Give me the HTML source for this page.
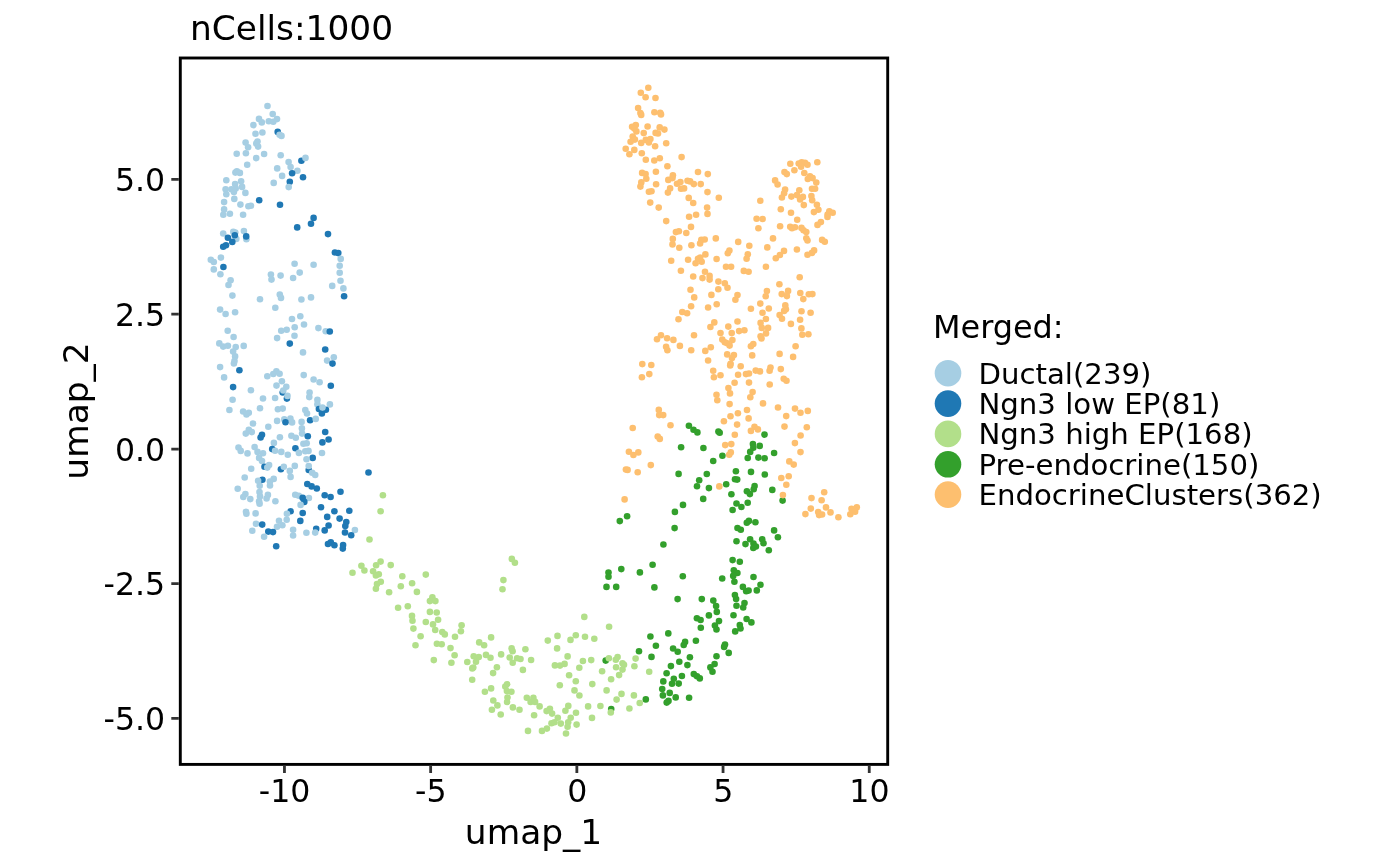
<!DOCTYPE html>
<html lang="en"><head><meta charset="utf-8"><title>nCells:1000</title>
<style>
html,body{margin:0;padding:0;background:#fff}
body{width:1400px;height:866px;overflow:hidden}
svg{display:block}
text{font-family:"DejaVu Sans","Liberation Sans",sans-serif;fill:#000}
.tk{font-size:31.6px}
.ax{font-size:34.4px}
.lt{font-size:31.9px}
.lg{font-size:29.2px}
</style></head><body>
<svg width="1400" height="866" viewBox="0 0 1400 866">
<rect width="1400" height="866" fill="#fff"/>
<text class="ax" x="190" y="40">nCells:1000</text>

<g id="points">
<circle cx="267.5" cy="106.0" r="3.3" fill="#A6CEE3"/>
<circle cx="272.7" cy="114.0" r="3.3" fill="#A6CEE3"/>
<circle cx="277.0" cy="119.1" r="3.3" fill="#A6CEE3"/>
<circle cx="259.0" cy="118.9" r="3.3" fill="#A6CEE3"/>
<circle cx="261.8" cy="122.4" r="3.3" fill="#A6CEE3"/>
<circle cx="268.8" cy="121.3" r="3.3" fill="#A6CEE3"/>
<circle cx="273.3" cy="121.8" r="3.3" fill="#A6CEE3"/>
<circle cx="253.4" cy="125.1" r="3.3" fill="#A6CEE3"/>
<circle cx="277.7" cy="131.9" r="3.3" fill="#1F78B4"/>
<circle cx="279.6" cy="134.7" r="3.3" fill="#A6CEE3"/>
<circle cx="281.5" cy="135.9" r="3.3" fill="#A6CEE3"/>
<circle cx="262.4" cy="132.5" r="3.3" fill="#A6CEE3"/>
<circle cx="255.5" cy="133.7" r="3.3" fill="#A6CEE3"/>
<circle cx="245.6" cy="142.6" r="3.3" fill="#A6CEE3"/>
<circle cx="257.5" cy="141.6" r="3.3" fill="#A6CEE3"/>
<circle cx="256.3" cy="143.4" r="3.3" fill="#A6CEE3"/>
<circle cx="258.1" cy="146.6" r="3.3" fill="#A6CEE3"/>
<circle cx="248.1" cy="147.3" r="3.3" fill="#A6CEE3"/>
<circle cx="236.7" cy="153.8" r="3.3" fill="#A6CEE3"/>
<circle cx="245.9" cy="153.3" r="3.3" fill="#A6CEE3"/>
<circle cx="264.1" cy="154.0" r="3.3" fill="#A6CEE3"/>
<circle cx="280.7" cy="155.2" r="3.3" fill="#A6CEE3"/>
<circle cx="256.2" cy="158.1" r="3.3" fill="#A6CEE3"/>
<circle cx="301.4" cy="160.8" r="3.3" fill="#1F78B4"/>
<circle cx="305.5" cy="157.9" r="3.3" fill="#A6CEE3"/>
<circle cx="288.6" cy="162.1" r="3.3" fill="#A6CEE3"/>
<circle cx="247.2" cy="164.8" r="3.3" fill="#A6CEE3"/>
<circle cx="290.6" cy="167.0" r="3.3" fill="#A6CEE3"/>
<circle cx="277.2" cy="168.4" r="3.3" fill="#A6CEE3"/>
<circle cx="297.4" cy="170.8" r="3.3" fill="#A6CEE3"/>
<circle cx="292.1" cy="173.3" r="3.3" fill="#1F78B4"/>
<circle cx="236.9" cy="171.4" r="3.3" fill="#A6CEE3"/>
<circle cx="235.4" cy="172.6" r="3.3" fill="#A6CEE3"/>
<circle cx="239.9" cy="172.9" r="3.3" fill="#A6CEE3"/>
<circle cx="303.0" cy="177.2" r="3.3" fill="#1F78B4"/>
<circle cx="282.1" cy="175.9" r="3.3" fill="#A6CEE3"/>
<circle cx="226.3" cy="180.3" r="3.3" fill="#A6CEE3"/>
<circle cx="241.1" cy="181.3" r="3.3" fill="#A6CEE3"/>
<circle cx="289.8" cy="181.8" r="3.3" fill="#1F78B4"/>
<circle cx="273.7" cy="182.9" r="3.3" fill="#A6CEE3"/>
<circle cx="235.1" cy="184.1" r="3.3" fill="#A6CEE3"/>
<circle cx="288.7" cy="187.1" r="3.3" fill="#A6CEE3"/>
<circle cx="242.1" cy="186.9" r="3.3" fill="#A6CEE3"/>
<circle cx="225.6" cy="189.3" r="3.3" fill="#A6CEE3"/>
<circle cx="231.4" cy="189.3" r="3.3" fill="#A6CEE3"/>
<circle cx="235.7" cy="188.4" r="3.3" fill="#A6CEE3"/>
<circle cx="233.9" cy="192.0" r="3.3" fill="#A6CEE3"/>
<circle cx="245.4" cy="192.9" r="3.3" fill="#A6CEE3"/>
<circle cx="226.3" cy="194.2" r="3.3" fill="#A6CEE3"/>
<circle cx="224.1" cy="202.1" r="3.3" fill="#A6CEE3"/>
<circle cx="234.3" cy="198.9" r="3.3" fill="#A6CEE3"/>
<circle cx="240.4" cy="204.6" r="3.3" fill="#A6CEE3"/>
<circle cx="248.4" cy="206.2" r="3.3" fill="#A6CEE3"/>
<circle cx="250.9" cy="205.8" r="3.3" fill="#A6CEE3"/>
<circle cx="259.2" cy="200.3" r="3.3" fill="#1F78B4"/>
<circle cx="280.0" cy="204.7" r="3.3" fill="#1F78B4"/>
<circle cx="224.1" cy="209.4" r="3.3" fill="#A6CEE3"/>
<circle cx="223.3" cy="214.7" r="3.3" fill="#A6CEE3"/>
<circle cx="229.9" cy="213.7" r="3.3" fill="#A6CEE3"/>
<circle cx="243.1" cy="214.8" r="3.3" fill="#A6CEE3"/>
<circle cx="313.6" cy="217.9" r="3.3" fill="#1F78B4"/>
<circle cx="311.0" cy="223.8" r="3.3" fill="#1F78B4"/>
<circle cx="297.2" cy="227.4" r="3.3" fill="#1F78B4"/>
<circle cx="328.0" cy="234.1" r="3.3" fill="#1F78B4"/>
<circle cx="223.2" cy="233.5" r="3.3" fill="#A6CEE3"/>
<circle cx="233.3" cy="231.7" r="3.3" fill="#A6CEE3"/>
<circle cx="235.3" cy="232.5" r="3.3" fill="#A6CEE3"/>
<circle cx="243.9" cy="231.0" r="3.3" fill="#A6CEE3"/>
<circle cx="236.3" cy="238.9" r="3.3" fill="#A6CEE3"/>
<circle cx="246.4" cy="239.2" r="3.3" fill="#A6CEE3"/>
<circle cx="234.8" cy="235.2" r="3.3" fill="#1F78B4"/>
<circle cx="227.9" cy="237.8" r="3.3" fill="#1F78B4"/>
<circle cx="232.3" cy="241.9" r="3.3" fill="#1F78B4"/>
<circle cx="246.2" cy="236.4" r="3.3" fill="#1F78B4"/>
<circle cx="226.0" cy="245.3" r="3.3" fill="#1F78B4"/>
<circle cx="223.2" cy="246.7" r="3.3" fill="#1F78B4"/>
<circle cx="334.9" cy="252.5" r="3.3" fill="#1F78B4"/>
<circle cx="338.3" cy="253.1" r="3.3" fill="#1F78B4"/>
<circle cx="340.7" cy="258.9" r="3.3" fill="#A6CEE3"/>
<circle cx="220.9" cy="257.6" r="3.3" fill="#A6CEE3"/>
<circle cx="210.8" cy="259.7" r="3.3" fill="#A6CEE3"/>
<circle cx="213.8" cy="262.0" r="3.3" fill="#A6CEE3"/>
<circle cx="223.4" cy="267.0" r="3.3" fill="#1F78B4"/>
<circle cx="213.8" cy="269.4" r="3.3" fill="#A6CEE3"/>
<circle cx="220.4" cy="274.2" r="3.3" fill="#A6CEE3"/>
<circle cx="294.6" cy="263.8" r="3.3" fill="#A6CEE3"/>
<circle cx="313.6" cy="264.8" r="3.3" fill="#A6CEE3"/>
<circle cx="339.7" cy="265.7" r="3.3" fill="#A6CEE3"/>
<circle cx="339.7" cy="272.8" r="3.3" fill="#A6CEE3"/>
<circle cx="299.7" cy="272.6" r="3.3" fill="#A6CEE3"/>
<circle cx="270.9" cy="274.6" r="3.3" fill="#A6CEE3"/>
<circle cx="280.6" cy="275.6" r="3.3" fill="#A6CEE3"/>
<circle cx="293.1" cy="278.0" r="3.3" fill="#A6CEE3"/>
<circle cx="271.5" cy="279.6" r="3.3" fill="#A6CEE3"/>
<circle cx="230.6" cy="280.2" r="3.3" fill="#A6CEE3"/>
<circle cx="340.5" cy="280.7" r="3.3" fill="#A6CEE3"/>
<circle cx="228.5" cy="285.0" r="3.3" fill="#A6CEE3"/>
<circle cx="332.2" cy="285.9" r="3.3" fill="#A6CEE3"/>
<circle cx="343.4" cy="288.4" r="3.3" fill="#A6CEE3"/>
<circle cx="232.4" cy="295.6" r="3.3" fill="#A6CEE3"/>
<circle cx="260.0" cy="299.2" r="3.3" fill="#A6CEE3"/>
<circle cx="279.8" cy="294.6" r="3.3" fill="#A6CEE3"/>
<circle cx="281.0" cy="297.9" r="3.3" fill="#A6CEE3"/>
<circle cx="301.4" cy="299.5" r="3.3" fill="#A6CEE3"/>
<circle cx="311.0" cy="297.4" r="3.3" fill="#A6CEE3"/>
<circle cx="344.1" cy="296.2" r="3.3" fill="#1F78B4"/>
<circle cx="220.1" cy="309.6" r="3.3" fill="#A6CEE3"/>
<circle cx="225.6" cy="314.0" r="3.3" fill="#A6CEE3"/>
<circle cx="235.1" cy="312.2" r="3.3" fill="#A6CEE3"/>
<circle cx="275.3" cy="307.7" r="3.3" fill="#A6CEE3"/>
<circle cx="300.3" cy="316.2" r="3.3" fill="#A6CEE3"/>
<circle cx="292.0" cy="319.0" r="3.3" fill="#A6CEE3"/>
<circle cx="304.0" cy="324.5" r="3.3" fill="#A6CEE3"/>
<circle cx="294.7" cy="327.2" r="3.3" fill="#A6CEE3"/>
<circle cx="318.4" cy="328.1" r="3.3" fill="#A6CEE3"/>
<circle cx="325.7" cy="331.3" r="3.3" fill="#A6CEE3"/>
<circle cx="329.8" cy="331.5" r="3.3" fill="#1F78B4"/>
<circle cx="286.7" cy="329.8" r="3.3" fill="#A6CEE3"/>
<circle cx="281.2" cy="330.7" r="3.3" fill="#A6CEE3"/>
<circle cx="227.7" cy="330.8" r="3.3" fill="#A6CEE3"/>
<circle cx="233.6" cy="337.0" r="3.3" fill="#A6CEE3"/>
<circle cx="294.5" cy="335.7" r="3.3" fill="#A6CEE3"/>
<circle cx="277.1" cy="338.1" r="3.3" fill="#A6CEE3"/>
<circle cx="289.8" cy="343.6" r="3.3" fill="#1F78B4"/>
<circle cx="219.3" cy="343.4" r="3.3" fill="#A6CEE3"/>
<circle cx="223.2" cy="346.6" r="3.3" fill="#A6CEE3"/>
<circle cx="227.9" cy="345.7" r="3.3" fill="#A6CEE3"/>
<circle cx="235.7" cy="347.1" r="3.3" fill="#A6CEE3"/>
<circle cx="243.7" cy="345.9" r="3.3" fill="#A6CEE3"/>
<circle cx="325.2" cy="349.5" r="3.3" fill="#1F78B4"/>
<circle cx="233.1" cy="351.6" r="3.3" fill="#A6CEE3"/>
<circle cx="303.0" cy="352.4" r="3.3" fill="#A6CEE3"/>
<circle cx="235.1" cy="356.4" r="3.3" fill="#A6CEE3"/>
<circle cx="333.8" cy="357.2" r="3.3" fill="#A6CEE3"/>
<circle cx="327.1" cy="360.6" r="3.3" fill="#A6CEE3"/>
<circle cx="332.5" cy="363.6" r="3.3" fill="#1F78B4"/>
<circle cx="234.5" cy="361.0" r="3.3" fill="#A6CEE3"/>
<circle cx="233.9" cy="363.5" r="3.3" fill="#A6CEE3"/>
<circle cx="220.1" cy="367.1" r="3.3" fill="#A6CEE3"/>
<circle cx="239.4" cy="370.3" r="3.3" fill="#1F78B4"/>
<circle cx="276.4" cy="371.4" r="3.3" fill="#A6CEE3"/>
<circle cx="273.3" cy="374.0" r="3.3" fill="#A6CEE3"/>
<circle cx="279.6" cy="373.8" r="3.3" fill="#A6CEE3"/>
<circle cx="267.3" cy="376.2" r="3.3" fill="#A6CEE3"/>
<circle cx="303.7" cy="375.1" r="3.3" fill="#A6CEE3"/>
<circle cx="224.1" cy="377.4" r="3.3" fill="#A6CEE3"/>
<circle cx="313.6" cy="379.5" r="3.3" fill="#A6CEE3"/>
<circle cx="319.6" cy="382.2" r="3.3" fill="#A6CEE3"/>
<circle cx="281.9" cy="381.3" r="3.3" fill="#A6CEE3"/>
<circle cx="330.8" cy="385.7" r="3.3" fill="#1F78B4"/>
<circle cx="276.5" cy="385.6" r="3.3" fill="#A6CEE3"/>
<circle cx="286.3" cy="386.7" r="3.3" fill="#A6CEE3"/>
<circle cx="233.1" cy="387.1" r="3.3" fill="#1F78B4"/>
<circle cx="250.9" cy="390.3" r="3.3" fill="#A6CEE3"/>
<circle cx="282.7" cy="392.5" r="3.3" fill="#1F78B4"/>
<circle cx="283.3" cy="390.5" r="3.3" fill="#A6CEE3"/>
<circle cx="286.9" cy="398.6" r="3.3" fill="#1F78B4"/>
<circle cx="287.5" cy="395.9" r="3.3" fill="#A6CEE3"/>
<circle cx="309.6" cy="392.5" r="3.3" fill="#A6CEE3"/>
<circle cx="309.3" cy="397.1" r="3.3" fill="#A6CEE3"/>
<circle cx="232.6" cy="399.7" r="3.3" fill="#A6CEE3"/>
<circle cx="263.0" cy="398.5" r="3.3" fill="#A6CEE3"/>
<circle cx="275.1" cy="398.0" r="3.3" fill="#A6CEE3"/>
<circle cx="317.4" cy="399.9" r="3.3" fill="#A6CEE3"/>
<circle cx="317.4" cy="404.4" r="3.3" fill="#A6CEE3"/>
<circle cx="329.9" cy="404.4" r="3.3" fill="#A6CEE3"/>
<circle cx="318.9" cy="409.0" r="3.3" fill="#1F78B4"/>
<circle cx="325.9" cy="409.7" r="3.3" fill="#1F78B4"/>
<circle cx="321.9" cy="413.5" r="3.3" fill="#1F78B4"/>
<circle cx="322.5" cy="407.5" r="3.3" fill="#A6CEE3"/>
<circle cx="229.4" cy="410.0" r="3.3" fill="#A6CEE3"/>
<circle cx="260.0" cy="408.2" r="3.3" fill="#A6CEE3"/>
<circle cx="277.9" cy="409.3" r="3.3" fill="#A6CEE3"/>
<circle cx="282.7" cy="408.6" r="3.3" fill="#A6CEE3"/>
<circle cx="305.3" cy="410.1" r="3.3" fill="#A6CEE3"/>
<circle cx="307.0" cy="413.5" r="3.3" fill="#A6CEE3"/>
<circle cx="243.1" cy="411.5" r="3.3" fill="#A6CEE3"/>
<circle cx="248.8" cy="412.7" r="3.3" fill="#A6CEE3"/>
<circle cx="246.5" cy="414.5" r="3.3" fill="#A6CEE3"/>
<circle cx="310.1" cy="420.2" r="3.3" fill="#1F78B4"/>
<circle cx="315.7" cy="418.9" r="3.3" fill="#A6CEE3"/>
<circle cx="284.3" cy="419.4" r="3.3" fill="#A6CEE3"/>
<circle cx="290.4" cy="418.6" r="3.3" fill="#A6CEE3"/>
<circle cx="292.1" cy="422.4" r="3.3" fill="#A6CEE3"/>
<circle cx="285.5" cy="422.2" r="3.3" fill="#1F78B4"/>
<circle cx="277.1" cy="420.9" r="3.3" fill="#A6CEE3"/>
<circle cx="301.6" cy="421.9" r="3.3" fill="#A6CEE3"/>
<circle cx="253.0" cy="423.5" r="3.3" fill="#A6CEE3"/>
<circle cx="268.3" cy="426.8" r="3.3" fill="#A6CEE3"/>
<circle cx="301.9" cy="428.4" r="3.3" fill="#A6CEE3"/>
<circle cx="248.8" cy="429.9" r="3.3" fill="#A6CEE3"/>
<circle cx="251.8" cy="432.1" r="3.3" fill="#A6CEE3"/>
<circle cx="245.8" cy="433.6" r="3.3" fill="#A6CEE3"/>
<circle cx="262.0" cy="434.8" r="3.3" fill="#1F78B4"/>
<circle cx="260.6" cy="437.5" r="3.3" fill="#1F78B4"/>
<circle cx="325.2" cy="432.0" r="3.3" fill="#1F78B4"/>
<circle cx="302.1" cy="433.6" r="3.3" fill="#A6CEE3"/>
<circle cx="307.8" cy="436.2" r="3.3" fill="#1F78B4"/>
<circle cx="291.4" cy="435.8" r="3.3" fill="#A6CEE3"/>
<circle cx="295.8" cy="437.8" r="3.3" fill="#A6CEE3"/>
<circle cx="279.9" cy="437.3" r="3.3" fill="#A6CEE3"/>
<circle cx="328.6" cy="439.5" r="3.3" fill="#1F78B4"/>
<circle cx="322.4" cy="442.4" r="3.3" fill="#1F78B4"/>
<circle cx="273.9" cy="442.9" r="3.3" fill="#A6CEE3"/>
<circle cx="303.4" cy="443.8" r="3.3" fill="#A6CEE3"/>
<circle cx="306.7" cy="443.3" r="3.3" fill="#A6CEE3"/>
<circle cx="254.6" cy="447.1" r="3.3" fill="#A6CEE3"/>
<circle cx="238.5" cy="447.5" r="3.3" fill="#A6CEE3"/>
<circle cx="240.7" cy="450.9" r="3.3" fill="#A6CEE3"/>
<circle cx="295.4" cy="448.3" r="3.3" fill="#1F78B4"/>
<circle cx="272.2" cy="449.1" r="3.3" fill="#1F78B4"/>
<circle cx="275.1" cy="450.7" r="3.3" fill="#A6CEE3"/>
<circle cx="281.3" cy="451.9" r="3.3" fill="#A6CEE3"/>
<circle cx="257.5" cy="451.9" r="3.3" fill="#A6CEE3"/>
<circle cx="263.0" cy="453.2" r="3.3" fill="#A6CEE3"/>
<circle cx="247.5" cy="453.4" r="3.3" fill="#A6CEE3"/>
<circle cx="287.8" cy="454.8" r="3.3" fill="#A6CEE3"/>
<circle cx="298.9" cy="452.9" r="3.3" fill="#A6CEE3"/>
<circle cx="305.3" cy="451.2" r="3.3" fill="#A6CEE3"/>
<circle cx="308.5" cy="450.9" r="3.3" fill="#A6CEE3"/>
<circle cx="322.0" cy="453.0" r="3.3" fill="#A6CEE3"/>
<circle cx="312.7" cy="457.9" r="3.3" fill="#1F78B4"/>
<circle cx="306.5" cy="459.3" r="3.3" fill="#A6CEE3"/>
<circle cx="259.1" cy="457.9" r="3.3" fill="#A6CEE3"/>
<circle cx="262.0" cy="461.1" r="3.3" fill="#A6CEE3"/>
<circle cx="308.7" cy="470.0" r="3.3" fill="#1F78B4"/>
<circle cx="308.7" cy="466.0" r="3.3" fill="#A6CEE3"/>
<circle cx="294.8" cy="465.9" r="3.3" fill="#A6CEE3"/>
<circle cx="264.5" cy="466.7" r="3.3" fill="#1F78B4"/>
<circle cx="269.1" cy="465.1" r="3.3" fill="#A6CEE3"/>
<circle cx="267.3" cy="467.6" r="3.3" fill="#A6CEE3"/>
<circle cx="280.9" cy="469.3" r="3.3" fill="#1F78B4"/>
<circle cx="283.8" cy="466.7" r="3.3" fill="#A6CEE3"/>
<circle cx="251.2" cy="468.8" r="3.3" fill="#A6CEE3"/>
<circle cx="289.8" cy="470.9" r="3.3" fill="#A6CEE3"/>
<circle cx="312.2" cy="472.7" r="3.3" fill="#A6CEE3"/>
<circle cx="315.2" cy="475.0" r="3.3" fill="#A6CEE3"/>
<circle cx="290.6" cy="476.9" r="3.3" fill="#A6CEE3"/>
<circle cx="244.7" cy="477.5" r="3.3" fill="#A6CEE3"/>
<circle cx="273.7" cy="478.9" r="3.3" fill="#A6CEE3"/>
<circle cx="262.4" cy="479.7" r="3.3" fill="#1F78B4"/>
<circle cx="258.1" cy="480.7" r="3.3" fill="#A6CEE3"/>
<circle cx="269.9" cy="481.5" r="3.3" fill="#A6CEE3"/>
<circle cx="259.7" cy="485.8" r="3.3" fill="#A6CEE3"/>
<circle cx="270.0" cy="485.5" r="3.3" fill="#A6CEE3"/>
<circle cx="307.3" cy="484.0" r="3.3" fill="#1F78B4"/>
<circle cx="311.6" cy="486.4" r="3.3" fill="#1F78B4"/>
<circle cx="316.8" cy="488.5" r="3.3" fill="#1F78B4"/>
<circle cx="237.7" cy="488.7" r="3.3" fill="#A6CEE3"/>
<circle cx="340.5" cy="491.7" r="3.3" fill="#1F78B4"/>
<circle cx="245.4" cy="494.0" r="3.3" fill="#A6CEE3"/>
<circle cx="243.3" cy="497.0" r="3.3" fill="#A6CEE3"/>
<circle cx="250.3" cy="499.1" r="3.3" fill="#A6CEE3"/>
<circle cx="259.5" cy="492.1" r="3.3" fill="#A6CEE3"/>
<circle cx="260.0" cy="496.4" r="3.3" fill="#A6CEE3"/>
<circle cx="267.9" cy="494.9" r="3.3" fill="#A6CEE3"/>
<circle cx="266.6" cy="498.5" r="3.3" fill="#A6CEE3"/>
<circle cx="259.1" cy="501.3" r="3.3" fill="#A6CEE3"/>
<circle cx="259.6" cy="503.7" r="3.3" fill="#A6CEE3"/>
<circle cx="275.4" cy="501.3" r="3.3" fill="#A6CEE3"/>
<circle cx="295.2" cy="494.8" r="3.3" fill="#A6CEE3"/>
<circle cx="298.8" cy="495.8" r="3.3" fill="#A6CEE3"/>
<circle cx="308.9" cy="498.0" r="3.3" fill="#A6CEE3"/>
<circle cx="324.7" cy="495.3" r="3.3" fill="#1F78B4"/>
<circle cx="330.6" cy="497.0" r="3.3" fill="#1F78B4"/>
<circle cx="302.7" cy="497.9" r="3.3" fill="#1F78B4"/>
<circle cx="304.3" cy="501.9" r="3.3" fill="#1F78B4"/>
<circle cx="300.6" cy="504.9" r="3.3" fill="#A6CEE3"/>
<circle cx="321.0" cy="507.2" r="3.3" fill="#1F78B4"/>
<circle cx="334.4" cy="511.3" r="3.3" fill="#1F78B4"/>
<circle cx="349.3" cy="510.7" r="3.3" fill="#1F78B4"/>
<circle cx="290.6" cy="511.2" r="3.3" fill="#1F78B4"/>
<circle cx="286.9" cy="513.8" r="3.3" fill="#A6CEE3"/>
<circle cx="302.7" cy="513.0" r="3.3" fill="#1F78B4"/>
<circle cx="246.0" cy="511.8" r="3.3" fill="#A6CEE3"/>
<circle cx="246.4" cy="513.8" r="3.3" fill="#A6CEE3"/>
<circle cx="255.6" cy="513.4" r="3.3" fill="#A6CEE3"/>
<circle cx="327.2" cy="516.9" r="3.3" fill="#1F78B4"/>
<circle cx="339.6" cy="518.6" r="3.3" fill="#1F78B4"/>
<circle cx="286.7" cy="519.8" r="3.3" fill="#A6CEE3"/>
<circle cx="279.0" cy="520.7" r="3.3" fill="#A6CEE3"/>
<circle cx="300.3" cy="520.9" r="3.3" fill="#1F78B4"/>
<circle cx="346.3" cy="522.0" r="3.3" fill="#1F78B4"/>
<circle cx="345.3" cy="526.1" r="3.3" fill="#1F78B4"/>
<circle cx="328.6" cy="525.5" r="3.3" fill="#1F78B4"/>
<circle cx="256.0" cy="523.8" r="3.3" fill="#A6CEE3"/>
<circle cx="262.2" cy="524.6" r="3.3" fill="#1F78B4"/>
<circle cx="282.4" cy="525.3" r="3.3" fill="#A6CEE3"/>
<circle cx="277.0" cy="526.8" r="3.3" fill="#A6CEE3"/>
<circle cx="316.2" cy="528.8" r="3.3" fill="#1F78B4"/>
<circle cx="324.7" cy="530.4" r="3.3" fill="#1F78B4"/>
<circle cx="354.9" cy="530.0" r="3.3" fill="#A6CEE3"/>
<circle cx="293.1" cy="529.8" r="3.3" fill="#A6CEE3"/>
<circle cx="252.3" cy="530.8" r="3.3" fill="#A6CEE3"/>
<circle cx="268.3" cy="531.6" r="3.3" fill="#1F78B4"/>
<circle cx="273.0" cy="532.1" r="3.3" fill="#1F78B4"/>
<circle cx="306.4" cy="532.7" r="3.3" fill="#A6CEE3"/>
<circle cx="315.2" cy="532.6" r="3.3" fill="#A6CEE3"/>
<circle cx="345.0" cy="532.5" r="3.3" fill="#1F78B4"/>
<circle cx="351.2" cy="535.3" r="3.3" fill="#1F78B4"/>
<circle cx="293.1" cy="535.5" r="3.3" fill="#A6CEE3"/>
<circle cx="264.1" cy="536.7" r="3.3" fill="#A6CEE3"/>
<circle cx="330.8" cy="542.2" r="3.3" fill="#1F78B4"/>
<circle cx="328.0" cy="544.0" r="3.3" fill="#1F78B4"/>
<circle cx="334.4" cy="545.3" r="3.3" fill="#1F78B4"/>
<circle cx="343.1" cy="545.0" r="3.3" fill="#1F78B4"/>
<circle cx="342.8" cy="548.6" r="3.3" fill="#1F78B4"/>
<circle cx="276.2" cy="546.2" r="3.3" fill="#1F78B4"/>
<circle cx="361.4" cy="565.7" r="3.3" fill="#B2DF8A"/>
<circle cx="352.5" cy="572.7" r="3.3" fill="#B2DF8A"/>
<circle cx="364.4" cy="570.5" r="3.3" fill="#B2DF8A"/>
<circle cx="368.5" cy="472.5" r="3.3" fill="#1F78B4"/>
<circle cx="382.9" cy="495.3" r="3.3" fill="#B2DF8A"/>
<circle cx="380.6" cy="511.3" r="3.3" fill="#B2DF8A"/>
<circle cx="369.5" cy="539.5" r="3.3" fill="#B2DF8A"/>
<circle cx="380.6" cy="561.6" r="3.3" fill="#B2DF8A"/>
<circle cx="376.1" cy="565.3" r="3.3" fill="#B2DF8A"/>
<circle cx="390.7" cy="565.1" r="3.3" fill="#B2DF8A"/>
<circle cx="373.1" cy="571.2" r="3.3" fill="#B2DF8A"/>
<circle cx="378.8" cy="574.2" r="3.3" fill="#B2DF8A"/>
<circle cx="375.9" cy="575.5" r="3.3" fill="#B2DF8A"/>
<circle cx="402.3" cy="576.3" r="3.3" fill="#B2DF8A"/>
<circle cx="425.8" cy="574.6" r="3.3" fill="#B2DF8A"/>
<circle cx="380.8" cy="581.8" r="3.3" fill="#B2DF8A"/>
<circle cx="377.0" cy="584.1" r="3.3" fill="#B2DF8A"/>
<circle cx="375.9" cy="588.8" r="3.3" fill="#B2DF8A"/>
<circle cx="412.1" cy="583.2" r="3.3" fill="#B2DF8A"/>
<circle cx="400.8" cy="586.3" r="3.3" fill="#B2DF8A"/>
<circle cx="389.1" cy="592.3" r="3.3" fill="#B2DF8A"/>
<circle cx="416.9" cy="591.9" r="3.3" fill="#B2DF8A"/>
<circle cx="432.4" cy="597.4" r="3.3" fill="#B2DF8A"/>
<circle cx="429.9" cy="601.1" r="3.3" fill="#B2DF8A"/>
<circle cx="435.4" cy="601.1" r="3.3" fill="#B2DF8A"/>
<circle cx="407.8" cy="606.3" r="3.3" fill="#B2DF8A"/>
<circle cx="398.1" cy="607.8" r="3.3" fill="#B2DF8A"/>
<circle cx="429.9" cy="611.9" r="3.3" fill="#B2DF8A"/>
<circle cx="436.7" cy="612.5" r="3.3" fill="#B2DF8A"/>
<circle cx="412.0" cy="615.9" r="3.3" fill="#B2DF8A"/>
<circle cx="412.5" cy="620.8" r="3.3" fill="#B2DF8A"/>
<circle cx="438.1" cy="619.7" r="3.3" fill="#B2DF8A"/>
<circle cx="425.8" cy="622.0" r="3.3" fill="#B2DF8A"/>
<circle cx="433.0" cy="624.4" r="3.3" fill="#B2DF8A"/>
<circle cx="413.4" cy="628.6" r="3.3" fill="#B2DF8A"/>
<circle cx="435.2" cy="630.0" r="3.3" fill="#B2DF8A"/>
<circle cx="461.6" cy="625.2" r="3.3" fill="#B2DF8A"/>
<circle cx="460.9" cy="631.3" r="3.3" fill="#B2DF8A"/>
<circle cx="442.3" cy="632.0" r="3.3" fill="#B2DF8A"/>
<circle cx="444.8" cy="634.4" r="3.3" fill="#B2DF8A"/>
<circle cx="420.6" cy="636.2" r="3.3" fill="#B2DF8A"/>
<circle cx="455.0" cy="636.8" r="3.3" fill="#B2DF8A"/>
<circle cx="491.1" cy="637.4" r="3.3" fill="#B2DF8A"/>
<circle cx="415.5" cy="645.2" r="3.3" fill="#B2DF8A"/>
<circle cx="436.9" cy="643.7" r="3.3" fill="#B2DF8A"/>
<circle cx="441.7" cy="644.2" r="3.3" fill="#B2DF8A"/>
<circle cx="479.2" cy="642.4" r="3.3" fill="#B2DF8A"/>
<circle cx="484.1" cy="645.2" r="3.3" fill="#B2DF8A"/>
<circle cx="450.5" cy="648.1" r="3.3" fill="#B2DF8A"/>
<circle cx="454.6" cy="655.3" r="3.3" fill="#B2DF8A"/>
<circle cx="433.8" cy="660.1" r="3.3" fill="#B2DF8A"/>
<circle cx="451.4" cy="662.8" r="3.3" fill="#B2DF8A"/>
<circle cx="473.7" cy="656.3" r="3.3" fill="#B2DF8A"/>
<circle cx="478.8" cy="657.1" r="3.3" fill="#B2DF8A"/>
<circle cx="486.0" cy="654.9" r="3.3" fill="#B2DF8A"/>
<circle cx="490.5" cy="657.8" r="3.3" fill="#B2DF8A"/>
<circle cx="467.3" cy="662.0" r="3.3" fill="#B2DF8A"/>
<circle cx="476.0" cy="661.7" r="3.3" fill="#B2DF8A"/>
<circle cx="473.3" cy="667.5" r="3.3" fill="#B2DF8A"/>
<circle cx="472.3" cy="668.4" r="3.3" fill="#B2DF8A"/>
<circle cx="493.1" cy="673.1" r="3.3" fill="#B2DF8A"/>
<circle cx="472.2" cy="679.7" r="3.3" fill="#B2DF8A"/>
<circle cx="491.1" cy="688.4" r="3.3" fill="#B2DF8A"/>
<circle cx="484.9" cy="691.8" r="3.3" fill="#B2DF8A"/>
<circle cx="493.3" cy="700.5" r="3.3" fill="#B2DF8A"/>
<circle cx="491.9" cy="709.7" r="3.3" fill="#B2DF8A"/>
<circle cx="657.7" cy="436.5" r="3.3" fill="#FDBF6F"/>
<circle cx="659.8" cy="438.9" r="3.3" fill="#FDBF6F"/>
<circle cx="628.9" cy="451.8" r="3.3" fill="#FDBF6F"/>
<circle cx="638.3" cy="452.4" r="3.3" fill="#FDBF6F"/>
<circle cx="633.4" cy="455.0" r="3.3" fill="#FDBF6F"/>
<circle cx="650.8" cy="465.1" r="3.3" fill="#FDBF6F"/>
<circle cx="625.9" cy="469.5" r="3.3" fill="#FDBF6F"/>
<circle cx="627.6" cy="469.9" r="3.3" fill="#FDBF6F"/>
<circle cx="637.7" cy="472.3" r="3.3" fill="#FDBF6F"/>
<circle cx="624.6" cy="499.4" r="3.3" fill="#FDBF6F"/>
<circle cx="627.1" cy="516.2" r="3.3" fill="#33A02C"/>
<circle cx="619.8" cy="521.1" r="3.3" fill="#33A02C"/>
<circle cx="511.8" cy="558.9" r="3.3" fill="#B2DF8A"/>
<circle cx="514.9" cy="562.7" r="3.3" fill="#B2DF8A"/>
<circle cx="503.4" cy="580.1" r="3.3" fill="#B2DF8A"/>
<circle cx="502.5" cy="589.2" r="3.3" fill="#B2DF8A"/>
<circle cx="608.5" cy="572.5" r="3.3" fill="#33A02C"/>
<circle cx="608.5" cy="576.8" r="3.3" fill="#33A02C"/>
<circle cx="621.3" cy="569.1" r="3.3" fill="#33A02C"/>
<circle cx="639.9" cy="572.4" r="3.3" fill="#33A02C"/>
<circle cx="652.6" cy="564.8" r="3.3" fill="#33A02C"/>
<circle cx="606.5" cy="586.9" r="3.3" fill="#33A02C"/>
<circle cx="616.2" cy="586.9" r="3.3" fill="#33A02C"/>
<circle cx="654.4" cy="587.4" r="3.3" fill="#33A02C"/>
<circle cx="584.3" cy="616.9" r="3.3" fill="#B2DF8A"/>
<circle cx="609.1" cy="626.7" r="3.3" fill="#B2DF8A"/>
<circle cx="557.5" cy="635.9" r="3.3" fill="#B2DF8A"/>
<circle cx="575.8" cy="635.3" r="3.3" fill="#B2DF8A"/>
<circle cx="585.0" cy="636.8" r="3.3" fill="#B2DF8A"/>
<circle cx="594.3" cy="638.7" r="3.3" fill="#B2DF8A"/>
<circle cx="547.8" cy="640.6" r="3.3" fill="#B2DF8A"/>
<circle cx="570.5" cy="639.9" r="3.3" fill="#B2DF8A"/>
<circle cx="650.4" cy="636.5" r="3.3" fill="#33A02C"/>
<circle cx="655.9" cy="645.7" r="3.3" fill="#33A02C"/>
<circle cx="557.1" cy="648.4" r="3.3" fill="#B2DF8A"/>
<circle cx="639.0" cy="651.3" r="3.3" fill="#33A02C"/>
<circle cx="651.5" cy="656.9" r="3.3" fill="#33A02C"/>
<circle cx="511.6" cy="648.4" r="3.3" fill="#B2DF8A"/>
<circle cx="512.6" cy="651.2" r="3.3" fill="#B2DF8A"/>
<circle cx="525.4" cy="649.3" r="3.3" fill="#B2DF8A"/>
<circle cx="501.1" cy="654.4" r="3.3" fill="#B2DF8A"/>
<circle cx="509.7" cy="657.5" r="3.3" fill="#B2DF8A"/>
<circle cx="517.1" cy="658.3" r="3.3" fill="#B2DF8A"/>
<circle cx="520.5" cy="659.0" r="3.3" fill="#B2DF8A"/>
<circle cx="512.7" cy="662.8" r="3.3" fill="#B2DF8A"/>
<circle cx="531.1" cy="660.0" r="3.3" fill="#B2DF8A"/>
<circle cx="567.6" cy="656.4" r="3.3" fill="#B2DF8A"/>
<circle cx="496.9" cy="667.2" r="3.3" fill="#B2DF8A"/>
<circle cx="522.9" cy="669.9" r="3.3" fill="#B2DF8A"/>
<circle cx="554.9" cy="665.4" r="3.3" fill="#B2DF8A"/>
<circle cx="560.0" cy="665.6" r="3.3" fill="#B2DF8A"/>
<circle cx="564.6" cy="663.9" r="3.3" fill="#B2DF8A"/>
<circle cx="582.9" cy="661.0" r="3.3" fill="#B2DF8A"/>
<circle cx="591.2" cy="660.1" r="3.3" fill="#B2DF8A"/>
<circle cx="579.3" cy="667.7" r="3.3" fill="#B2DF8A"/>
<circle cx="605.7" cy="660.6" r="3.3" fill="#33A02C"/>
<circle cx="608.9" cy="658.2" r="3.3" fill="#B2DF8A"/>
<circle cx="617.6" cy="657.0" r="3.3" fill="#B2DF8A"/>
<circle cx="615.8" cy="659.7" r="3.3" fill="#B2DF8A"/>
<circle cx="635.6" cy="658.6" r="3.3" fill="#B2DF8A"/>
<circle cx="622.5" cy="663.2" r="3.3" fill="#B2DF8A"/>
<circle cx="624.0" cy="664.8" r="3.3" fill="#B2DF8A"/>
<circle cx="622.5" cy="669.6" r="3.3" fill="#B2DF8A"/>
<circle cx="616.1" cy="667.2" r="3.3" fill="#B2DF8A"/>
<circle cx="634.4" cy="666.2" r="3.3" fill="#B2DF8A"/>
<circle cx="602.1" cy="671.3" r="3.3" fill="#B2DF8A"/>
<circle cx="649.2" cy="671.7" r="3.3" fill="#B2DF8A"/>
<circle cx="619.1" cy="675.1" r="3.3" fill="#B2DF8A"/>
<circle cx="569.1" cy="675.3" r="3.3" fill="#B2DF8A"/>
<circle cx="611.1" cy="679.3" r="3.3" fill="#B2DF8A"/>
<circle cx="575.8" cy="681.3" r="3.3" fill="#B2DF8A"/>
<circle cx="592.3" cy="684.1" r="3.3" fill="#B2DF8A"/>
<circle cx="559.8" cy="685.2" r="3.3" fill="#B2DF8A"/>
<circle cx="507.1" cy="684.2" r="3.3" fill="#B2DF8A"/>
<circle cx="505.3" cy="686.6" r="3.3" fill="#B2DF8A"/>
<circle cx="506.9" cy="691.1" r="3.3" fill="#B2DF8A"/>
<circle cx="511.4" cy="691.8" r="3.3" fill="#B2DF8A"/>
<circle cx="574.5" cy="690.4" r="3.3" fill="#B2DF8A"/>
<circle cx="606.6" cy="690.4" r="3.3" fill="#B2DF8A"/>
<circle cx="579.4" cy="695.5" r="3.3" fill="#B2DF8A"/>
<circle cx="621.5" cy="693.9" r="3.3" fill="#B2DF8A"/>
<circle cx="633.9" cy="695.4" r="3.3" fill="#B2DF8A"/>
<circle cx="616.6" cy="699.6" r="3.3" fill="#B2DF8A"/>
<circle cx="645.8" cy="699.4" r="3.3" fill="#33A02C"/>
<circle cx="639.7" cy="703.0" r="3.3" fill="#B2DF8A"/>
<circle cx="507.5" cy="697.5" r="3.3" fill="#B2DF8A"/>
<circle cx="507.1" cy="702.0" r="3.3" fill="#B2DF8A"/>
<circle cx="526.8" cy="697.7" r="3.3" fill="#B2DF8A"/>
<circle cx="533.4" cy="697.9" r="3.3" fill="#B2DF8A"/>
<circle cx="530.6" cy="701.9" r="3.3" fill="#B2DF8A"/>
<circle cx="535.1" cy="701.9" r="3.3" fill="#B2DF8A"/>
<circle cx="497.4" cy="705.4" r="3.3" fill="#B2DF8A"/>
<circle cx="512.9" cy="707.4" r="3.3" fill="#B2DF8A"/>
<circle cx="519.5" cy="709.8" r="3.3" fill="#B2DF8A"/>
<circle cx="500.7" cy="714.5" r="3.3" fill="#B2DF8A"/>
<circle cx="539.6" cy="706.4" r="3.3" fill="#B2DF8A"/>
<circle cx="568.3" cy="705.9" r="3.3" fill="#B2DF8A"/>
<circle cx="588.1" cy="706.4" r="3.3" fill="#B2DF8A"/>
<circle cx="600.4" cy="706.0" r="3.3" fill="#B2DF8A"/>
<circle cx="611.2" cy="709.1" r="3.3" fill="#33A02C"/>
<circle cx="610.8" cy="712.4" r="3.3" fill="#B2DF8A"/>
<circle cx="629.4" cy="708.5" r="3.3" fill="#B2DF8A"/>
<circle cx="549.9" cy="708.7" r="3.3" fill="#B2DF8A"/>
<circle cx="546.6" cy="711.1" r="3.3" fill="#B2DF8A"/>
<circle cx="552.1" cy="713.6" r="3.3" fill="#B2DF8A"/>
<circle cx="565.4" cy="710.7" r="3.3" fill="#B2DF8A"/>
<circle cx="576.0" cy="712.8" r="3.3" fill="#B2DF8A"/>
<circle cx="534.1" cy="715.3" r="3.3" fill="#B2DF8A"/>
<circle cx="557.8" cy="717.8" r="3.3" fill="#B2DF8A"/>
<circle cx="570.7" cy="717.7" r="3.3" fill="#B2DF8A"/>
<circle cx="592.0" cy="717.9" r="3.3" fill="#B2DF8A"/>
<circle cx="568.2" cy="722.2" r="3.3" fill="#B2DF8A"/>
<circle cx="567.6" cy="726.7" r="3.3" fill="#B2DF8A"/>
<circle cx="551.5" cy="723.3" r="3.3" fill="#B2DF8A"/>
<circle cx="554.5" cy="722.2" r="3.3" fill="#B2DF8A"/>
<circle cx="560.8" cy="723.6" r="3.3" fill="#B2DF8A"/>
<circle cx="576.6" cy="724.6" r="3.3" fill="#B2DF8A"/>
<circle cx="546.9" cy="728.6" r="3.3" fill="#B2DF8A"/>
<circle cx="542.0" cy="730.9" r="3.3" fill="#B2DF8A"/>
<circle cx="528.0" cy="730.9" r="3.3" fill="#B2DF8A"/>
<circle cx="566.0" cy="733.5" r="3.3" fill="#B2DF8A"/>
<circle cx="681.1" cy="447.3" r="3.3" fill="#33A02C"/>
<circle cx="703.4" cy="448.0" r="3.3" fill="#33A02C"/>
<circle cx="725.2" cy="445.1" r="3.3" fill="#FDBF6F"/>
<circle cx="731.3" cy="444.1" r="3.3" fill="#FDBF6F"/>
<circle cx="752.9" cy="444.1" r="3.3" fill="#33A02C"/>
<circle cx="753.3" cy="447.8" r="3.3" fill="#33A02C"/>
<circle cx="759.7" cy="445.9" r="3.3" fill="#33A02C"/>
<circle cx="794.9" cy="443.1" r="3.3" fill="#FDBF6F"/>
<circle cx="800.5" cy="452.1" r="3.3" fill="#FDBF6F"/>
<circle cx="730.8" cy="452.4" r="3.3" fill="#FDBF6F"/>
<circle cx="729.2" cy="454.8" r="3.3" fill="#FDBF6F"/>
<circle cx="722.4" cy="455.8" r="3.3" fill="#33A02C"/>
<circle cx="750.2" cy="451.9" r="3.3" fill="#33A02C"/>
<circle cx="774.1" cy="453.0" r="3.3" fill="#33A02C"/>
<circle cx="713.2" cy="461.0" r="3.3" fill="#33A02C"/>
<circle cx="747.7" cy="458.0" r="3.3" fill="#33A02C"/>
<circle cx="758.4" cy="457.6" r="3.3" fill="#33A02C"/>
<circle cx="764.6" cy="458.2" r="3.3" fill="#33A02C"/>
<circle cx="789.3" cy="461.4" r="3.3" fill="#FDBF6F"/>
<circle cx="793.7" cy="464.6" r="3.3" fill="#FDBF6F"/>
<circle cx="678.6" cy="473.9" r="3.3" fill="#33A02C"/>
<circle cx="706.8" cy="474.0" r="3.3" fill="#33A02C"/>
<circle cx="735.9" cy="471.2" r="3.3" fill="#33A02C"/>
<circle cx="751.0" cy="471.9" r="3.3" fill="#33A02C"/>
<circle cx="764.8" cy="474.5" r="3.3" fill="#33A02C"/>
<circle cx="788.7" cy="476.3" r="3.3" fill="#FDBF6F"/>
<circle cx="781.3" cy="478.0" r="3.3" fill="#FDBF6F"/>
<circle cx="699.2" cy="480.2" r="3.3" fill="#33A02C"/>
<circle cx="735.0" cy="479.3" r="3.3" fill="#33A02C"/>
<circle cx="737.2" cy="479.6" r="3.3" fill="#33A02C"/>
<circle cx="786.3" cy="484.7" r="3.3" fill="#FDBF6F"/>
<circle cx="697.0" cy="486.2" r="3.3" fill="#33A02C"/>
<circle cx="708.9" cy="488.1" r="3.3" fill="#33A02C"/>
<circle cx="719.3" cy="486.4" r="3.3" fill="#FDBF6F"/>
<circle cx="726.2" cy="484.2" r="3.3" fill="#33A02C"/>
<circle cx="754.6" cy="486.0" r="3.3" fill="#33A02C"/>
<circle cx="753.7" cy="489.3" r="3.3" fill="#33A02C"/>
<circle cx="772.3" cy="489.9" r="3.3" fill="#33A02C"/>
<circle cx="746.9" cy="491.2" r="3.3" fill="#33A02C"/>
<circle cx="749.9" cy="494.1" r="3.3" fill="#33A02C"/>
<circle cx="731.4" cy="494.3" r="3.3" fill="#33A02C"/>
<circle cx="782.6" cy="500.6" r="3.3" fill="#33A02C"/>
<circle cx="782.9" cy="495.1" r="3.3" fill="#FDBF6F"/>
<circle cx="824.2" cy="492.2" r="3.3" fill="#FDBF6F"/>
<circle cx="811.5" cy="498.1" r="3.3" fill="#FDBF6F"/>
<circle cx="821.6" cy="500.2" r="3.3" fill="#FDBF6F"/>
<circle cx="703.2" cy="498.9" r="3.3" fill="#33A02C"/>
<circle cx="683.0" cy="504.9" r="3.3" fill="#33A02C"/>
<circle cx="747.7" cy="502.8" r="3.3" fill="#33A02C"/>
<circle cx="736.5" cy="503.5" r="3.3" fill="#33A02C"/>
<circle cx="741.4" cy="507.0" r="3.3" fill="#33A02C"/>
<circle cx="732.6" cy="510.0" r="3.3" fill="#33A02C"/>
<circle cx="674.9" cy="511.9" r="3.3" fill="#33A02C"/>
<circle cx="826.0" cy="507.4" r="3.3" fill="#FDBF6F"/>
<circle cx="810.8" cy="508.6" r="3.3" fill="#FDBF6F"/>
<circle cx="818.2" cy="512.1" r="3.3" fill="#FDBF6F"/>
<circle cx="822.1" cy="514.5" r="3.3" fill="#FDBF6F"/>
<circle cx="819.1" cy="515.1" r="3.3" fill="#FDBF6F"/>
<circle cx="805.4" cy="514.1" r="3.3" fill="#FDBF6F"/>
<circle cx="748.9" cy="520.9" r="3.3" fill="#33A02C"/>
<circle cx="746.8" cy="522.7" r="3.3" fill="#33A02C"/>
<circle cx="755.4" cy="522.3" r="3.3" fill="#33A02C"/>
<circle cx="674.6" cy="528.1" r="3.3" fill="#33A02C"/>
<circle cx="737.5" cy="528.0" r="3.3" fill="#33A02C"/>
<circle cx="740.8" cy="529.7" r="3.3" fill="#33A02C"/>
<circle cx="774.1" cy="530.4" r="3.3" fill="#33A02C"/>
<circle cx="663.4" cy="544.5" r="3.3" fill="#33A02C"/>
<circle cx="736.5" cy="541.2" r="3.3" fill="#33A02C"/>
<circle cx="750.1" cy="539.3" r="3.3" fill="#33A02C"/>
<circle cx="745.5" cy="544.1" r="3.3" fill="#33A02C"/>
<circle cx="753.5" cy="543.5" r="3.3" fill="#33A02C"/>
<circle cx="755.9" cy="546.5" r="3.3" fill="#33A02C"/>
<circle cx="753.3" cy="548.0" r="3.3" fill="#33A02C"/>
<circle cx="762.2" cy="539.3" r="3.3" fill="#33A02C"/>
<circle cx="763.5" cy="543.3" r="3.3" fill="#33A02C"/>
<circle cx="777.9" cy="537.2" r="3.3" fill="#33A02C"/>
<circle cx="768.8" cy="550.3" r="3.3" fill="#33A02C"/>
<circle cx="732.6" cy="560.1" r="3.3" fill="#33A02C"/>
<circle cx="739.8" cy="561.7" r="3.3" fill="#33A02C"/>
<circle cx="733.8" cy="570.2" r="3.3" fill="#33A02C"/>
<circle cx="737.4" cy="573.0" r="3.3" fill="#33A02C"/>
<circle cx="733.2" cy="575.9" r="3.3" fill="#33A02C"/>
<circle cx="682.8" cy="576.3" r="3.3" fill="#33A02C"/>
<circle cx="722.2" cy="578.5" r="3.3" fill="#33A02C"/>
<circle cx="753.5" cy="577.0" r="3.3" fill="#33A02C"/>
<circle cx="734.4" cy="581.8" r="3.3" fill="#33A02C"/>
<circle cx="760.5" cy="584.7" r="3.3" fill="#33A02C"/>
<circle cx="742.9" cy="586.9" r="3.3" fill="#33A02C"/>
<circle cx="756.8" cy="590.4" r="3.3" fill="#33A02C"/>
<circle cx="746.2" cy="591.2" r="3.3" fill="#33A02C"/>
<circle cx="748.6" cy="590.6" r="3.3" fill="#33A02C"/>
<circle cx="734.9" cy="595.0" r="3.3" fill="#33A02C"/>
<circle cx="736.1" cy="599.0" r="3.3" fill="#33A02C"/>
<circle cx="677.6" cy="599.1" r="3.3" fill="#33A02C"/>
<circle cx="701.8" cy="599.1" r="3.3" fill="#33A02C"/>
<circle cx="713.3" cy="600.6" r="3.3" fill="#33A02C"/>
<circle cx="744.5" cy="603.0" r="3.3" fill="#33A02C"/>
<circle cx="736.5" cy="605.7" r="3.3" fill="#33A02C"/>
<circle cx="716.1" cy="606.0" r="3.3" fill="#33A02C"/>
<circle cx="743.2" cy="607.5" r="3.3" fill="#33A02C"/>
<circle cx="716.8" cy="611.9" r="3.3" fill="#33A02C"/>
<circle cx="708.9" cy="615.4" r="3.3" fill="#33A02C"/>
<circle cx="733.5" cy="615.3" r="3.3" fill="#33A02C"/>
<circle cx="696.9" cy="618.2" r="3.3" fill="#33A02C"/>
<circle cx="700.6" cy="620.0" r="3.3" fill="#33A02C"/>
<circle cx="746.6" cy="619.0" r="3.3" fill="#33A02C"/>
<circle cx="751.4" cy="622.4" r="3.3" fill="#33A02C"/>
<circle cx="719.0" cy="621.1" r="3.3" fill="#33A02C"/>
<circle cx="700.8" cy="627.8" r="3.3" fill="#33A02C"/>
<circle cx="714.9" cy="625.6" r="3.3" fill="#33A02C"/>
<circle cx="716.5" cy="629.5" r="3.3" fill="#33A02C"/>
<circle cx="739.8" cy="625.1" r="3.3" fill="#33A02C"/>
<circle cx="740.5" cy="628.5" r="3.3" fill="#33A02C"/>
<circle cx="735.2" cy="631.4" r="3.3" fill="#33A02C"/>
<circle cx="668.3" cy="633.4" r="3.3" fill="#33A02C"/>
<circle cx="685.1" cy="641.9" r="3.3" fill="#33A02C"/>
<circle cx="683.7" cy="645.0" r="3.3" fill="#33A02C"/>
<circle cx="695.9" cy="640.7" r="3.3" fill="#33A02C"/>
<circle cx="725.0" cy="644.5" r="3.3" fill="#33A02C"/>
<circle cx="724.1" cy="646.9" r="3.3" fill="#33A02C"/>
<circle cx="728.7" cy="652.9" r="3.3" fill="#33A02C"/>
<circle cx="673.1" cy="648.5" r="3.3" fill="#33A02C"/>
<circle cx="677.7" cy="651.8" r="3.3" fill="#33A02C"/>
<circle cx="689.9" cy="657.2" r="3.3" fill="#33A02C"/>
<circle cx="716.5" cy="656.3" r="3.3" fill="#33A02C"/>
<circle cx="679.3" cy="661.7" r="3.3" fill="#33A02C"/>
<circle cx="687.4" cy="665.1" r="3.3" fill="#33A02C"/>
<circle cx="670.9" cy="666.1" r="3.3" fill="#33A02C"/>
<circle cx="714.6" cy="664.0" r="3.3" fill="#33A02C"/>
<circle cx="710.4" cy="667.4" r="3.3" fill="#33A02C"/>
<circle cx="712.5" cy="671.7" r="3.3" fill="#33A02C"/>
<circle cx="666.6" cy="673.3" r="3.3" fill="#33A02C"/>
<circle cx="693.8" cy="674.1" r="3.3" fill="#33A02C"/>
<circle cx="697.0" cy="676.3" r="3.3" fill="#33A02C"/>
<circle cx="699.8" cy="678.4" r="3.3" fill="#33A02C"/>
<circle cx="681.9" cy="676.0" r="3.3" fill="#33A02C"/>
<circle cx="673.8" cy="678.7" r="3.3" fill="#33A02C"/>
<circle cx="663.3" cy="681.4" r="3.3" fill="#33A02C"/>
<circle cx="672.0" cy="683.7" r="3.3" fill="#33A02C"/>
<circle cx="678.7" cy="683.6" r="3.3" fill="#33A02C"/>
<circle cx="662.2" cy="689.0" r="3.3" fill="#33A02C"/>
<circle cx="669.7" cy="692.9" r="3.3" fill="#33A02C"/>
<circle cx="662.9" cy="695.4" r="3.3" fill="#33A02C"/>
<circle cx="675.7" cy="697.4" r="3.3" fill="#33A02C"/>
<circle cx="689.1" cy="697.8" r="3.3" fill="#33A02C"/>
<circle cx="668.5" cy="700.9" r="3.3" fill="#33A02C"/>
<circle cx="666.7" cy="702.6" r="3.3" fill="#33A02C"/>
<circle cx="830.5" cy="512.4" r="3.3" fill="#FDBF6F"/>
<circle cx="838.4" cy="517.2" r="3.3" fill="#FDBF6F"/>
<circle cx="851.5" cy="508.8" r="3.3" fill="#FDBF6F"/>
<circle cx="856.8" cy="507.3" r="3.3" fill="#FDBF6F"/>
<circle cx="850.3" cy="514.2" r="3.3" fill="#FDBF6F"/>
<circle cx="855.1" cy="511.7" r="3.3" fill="#FDBF6F"/>
<circle cx="854.1" cy="509.7" r="3.3" fill="#FDBF6F"/>
<circle cx="648.3" cy="87.8" r="3.3" fill="#FDBF6F"/>
<circle cx="640.8" cy="92.8" r="3.3" fill="#FDBF6F"/>
<circle cx="645.6" cy="97.3" r="3.3" fill="#FDBF6F"/>
<circle cx="655.5" cy="98.0" r="3.3" fill="#FDBF6F"/>
<circle cx="638.1" cy="108.0" r="3.3" fill="#FDBF6F"/>
<circle cx="640.4" cy="113.1" r="3.3" fill="#FDBF6F"/>
<circle cx="641.2" cy="114.9" r="3.3" fill="#FDBF6F"/>
<circle cx="654.4" cy="112.2" r="3.3" fill="#FDBF6F"/>
<circle cx="660.2" cy="112.8" r="3.3" fill="#FDBF6F"/>
<circle cx="661.0" cy="114.4" r="3.3" fill="#FDBF6F"/>
<circle cx="635.8" cy="125.0" r="3.3" fill="#FDBF6F"/>
<circle cx="632.1" cy="126.8" r="3.3" fill="#FDBF6F"/>
<circle cx="634.3" cy="128.6" r="3.3" fill="#FDBF6F"/>
<circle cx="636.4" cy="131.4" r="3.3" fill="#FDBF6F"/>
<circle cx="647.6" cy="126.5" r="3.3" fill="#FDBF6F"/>
<circle cx="659.7" cy="127.4" r="3.3" fill="#FDBF6F"/>
<circle cx="664.4" cy="129.6" r="3.3" fill="#FDBF6F"/>
<circle cx="643.7" cy="133.1" r="3.3" fill="#FDBF6F"/>
<circle cx="655.6" cy="132.9" r="3.3" fill="#FDBF6F"/>
<circle cx="658.0" cy="133.5" r="3.3" fill="#FDBF6F"/>
<circle cx="632.7" cy="136.5" r="3.3" fill="#FDBF6F"/>
<circle cx="634.9" cy="139.6" r="3.3" fill="#FDBF6F"/>
<circle cx="630.6" cy="141.7" r="3.3" fill="#FDBF6F"/>
<circle cx="645.8" cy="139.9" r="3.3" fill="#FDBF6F"/>
<circle cx="650.4" cy="139.0" r="3.3" fill="#FDBF6F"/>
<circle cx="648.9" cy="142.5" r="3.3" fill="#FDBF6F"/>
<circle cx="641.2" cy="142.9" r="3.3" fill="#FDBF6F"/>
<circle cx="666.2" cy="143.3" r="3.3" fill="#FDBF6F"/>
<circle cx="655.1" cy="146.3" r="3.3" fill="#FDBF6F"/>
<circle cx="625.7" cy="148.7" r="3.3" fill="#FDBF6F"/>
<circle cx="634.3" cy="149.9" r="3.3" fill="#FDBF6F"/>
<circle cx="629.4" cy="154.2" r="3.3" fill="#FDBF6F"/>
<circle cx="641.8" cy="153.3" r="3.3" fill="#FDBF6F"/>
<circle cx="681.6" cy="157.1" r="3.3" fill="#FDBF6F"/>
<circle cx="645.8" cy="159.7" r="3.3" fill="#FDBF6F"/>
<circle cx="654.3" cy="160.5" r="3.3" fill="#FDBF6F"/>
<circle cx="659.8" cy="158.3" r="3.3" fill="#FDBF6F"/>
<circle cx="667.4" cy="166.2" r="3.3" fill="#FDBF6F"/>
<circle cx="642.1" cy="172.9" r="3.3" fill="#FDBF6F"/>
<circle cx="645.6" cy="174.1" r="3.3" fill="#FDBF6F"/>
<circle cx="655.9" cy="171.7" r="3.3" fill="#FDBF6F"/>
<circle cx="698.0" cy="172.0" r="3.3" fill="#FDBF6F"/>
<circle cx="707.8" cy="174.1" r="3.3" fill="#FDBF6F"/>
<circle cx="646.3" cy="178.7" r="3.3" fill="#FDBF6F"/>
<circle cx="672.9" cy="175.3" r="3.3" fill="#FDBF6F"/>
<circle cx="672.5" cy="178.1" r="3.3" fill="#FDBF6F"/>
<circle cx="668.3" cy="179.9" r="3.3" fill="#FDBF6F"/>
<circle cx="641.3" cy="182.4" r="3.3" fill="#FDBF6F"/>
<circle cx="640.4" cy="186.6" r="3.3" fill="#FDBF6F"/>
<circle cx="656.1" cy="184.2" r="3.3" fill="#FDBF6F"/>
<circle cx="677.0" cy="183.8" r="3.3" fill="#FDBF6F"/>
<circle cx="680.4" cy="182.1" r="3.3" fill="#FDBF6F"/>
<circle cx="687.5" cy="180.8" r="3.3" fill="#FDBF6F"/>
<circle cx="690.1" cy="181.4" r="3.3" fill="#FDBF6F"/>
<circle cx="693.8" cy="184.1" r="3.3" fill="#FDBF6F"/>
<circle cx="700.7" cy="184.1" r="3.3" fill="#FDBF6F"/>
<circle cx="775.1" cy="180.4" r="3.3" fill="#FDBF6F"/>
<circle cx="777.6" cy="184.5" r="3.3" fill="#FDBF6F"/>
<circle cx="670.1" cy="188.4" r="3.3" fill="#FDBF6F"/>
<circle cx="667.9" cy="192.6" r="3.3" fill="#FDBF6F"/>
<circle cx="681.0" cy="188.7" r="3.3" fill="#FDBF6F"/>
<circle cx="684.1" cy="188.4" r="3.3" fill="#FDBF6F"/>
<circle cx="648.9" cy="191.8" r="3.3" fill="#FDBF6F"/>
<circle cx="651.5" cy="191.2" r="3.3" fill="#FDBF6F"/>
<circle cx="707.5" cy="192.1" r="3.3" fill="#FDBF6F"/>
<circle cx="688.7" cy="197.9" r="3.3" fill="#FDBF6F"/>
<circle cx="718.8" cy="197.7" r="3.3" fill="#FDBF6F"/>
<circle cx="760.3" cy="200.8" r="3.3" fill="#FDBF6F"/>
<circle cx="693.2" cy="203.0" r="3.3" fill="#FDBF6F"/>
<circle cx="650.2" cy="202.6" r="3.3" fill="#FDBF6F"/>
<circle cx="658.7" cy="207.6" r="3.3" fill="#FDBF6F"/>
<circle cx="707.1" cy="207.6" r="3.3" fill="#FDBF6F"/>
<circle cx="707.5" cy="213.9" r="3.3" fill="#FDBF6F"/>
<circle cx="696.1" cy="214.8" r="3.3" fill="#FDBF6F"/>
<circle cx="689.1" cy="216.8" r="3.3" fill="#FDBF6F"/>
<circle cx="756.6" cy="218.8" r="3.3" fill="#FDBF6F"/>
<circle cx="762.6" cy="219.0" r="3.3" fill="#FDBF6F"/>
<circle cx="666.2" cy="221.1" r="3.3" fill="#FDBF6F"/>
<circle cx="758.4" cy="228.3" r="3.3" fill="#FDBF6F"/>
<circle cx="691.0" cy="226.9" r="3.3" fill="#FDBF6F"/>
<circle cx="675.9" cy="232.1" r="3.3" fill="#FDBF6F"/>
<circle cx="678.9" cy="231.3" r="3.3" fill="#FDBF6F"/>
<circle cx="686.3" cy="233.0" r="3.3" fill="#FDBF6F"/>
<circle cx="672.8" cy="238.9" r="3.3" fill="#FDBF6F"/>
<circle cx="672.5" cy="244.4" r="3.3" fill="#FDBF6F"/>
<circle cx="679.3" cy="247.8" r="3.3" fill="#FDBF6F"/>
<circle cx="691.4" cy="245.2" r="3.3" fill="#FDBF6F"/>
<circle cx="701.3" cy="239.9" r="3.3" fill="#FDBF6F"/>
<circle cx="704.7" cy="239.5" r="3.3" fill="#FDBF6F"/>
<circle cx="700.1" cy="243.5" r="3.3" fill="#FDBF6F"/>
<circle cx="715.8" cy="238.4" r="3.3" fill="#FDBF6F"/>
<circle cx="738.2" cy="241.9" r="3.3" fill="#FDBF6F"/>
<circle cx="749.3" cy="245.8" r="3.3" fill="#FDBF6F"/>
<circle cx="773.0" cy="238.4" r="3.3" fill="#FDBF6F"/>
<circle cx="767.3" cy="247.4" r="3.3" fill="#FDBF6F"/>
<circle cx="729.4" cy="250.5" r="3.3" fill="#FDBF6F"/>
<circle cx="727.8" cy="253.2" r="3.3" fill="#FDBF6F"/>
<circle cx="747.8" cy="254.2" r="3.3" fill="#FDBF6F"/>
<circle cx="746.6" cy="258.7" r="3.3" fill="#FDBF6F"/>
<circle cx="775.8" cy="258.3" r="3.3" fill="#FDBF6F"/>
<circle cx="705.4" cy="254.4" r="3.3" fill="#FDBF6F"/>
<circle cx="700.2" cy="257.5" r="3.3" fill="#FDBF6F"/>
<circle cx="698.0" cy="258.7" r="3.3" fill="#FDBF6F"/>
<circle cx="701.7" cy="261.7" r="3.3" fill="#FDBF6F"/>
<circle cx="695.6" cy="263.2" r="3.3" fill="#FDBF6F"/>
<circle cx="688.1" cy="259.7" r="3.3" fill="#FDBF6F"/>
<circle cx="671.2" cy="260.7" r="3.3" fill="#FDBF6F"/>
<circle cx="716.6" cy="259.0" r="3.3" fill="#FDBF6F"/>
<circle cx="726.0" cy="266.8" r="3.3" fill="#FDBF6F"/>
<circle cx="731.1" cy="266.8" r="3.3" fill="#FDBF6F"/>
<circle cx="765.9" cy="266.8" r="3.3" fill="#FDBF6F"/>
<circle cx="743.8" cy="270.9" r="3.3" fill="#FDBF6F"/>
<circle cx="748.6" cy="271.7" r="3.3" fill="#FDBF6F"/>
<circle cx="680.9" cy="270.7" r="3.3" fill="#FDBF6F"/>
<circle cx="705.0" cy="271.7" r="3.3" fill="#FDBF6F"/>
<circle cx="709.6" cy="275.9" r="3.3" fill="#FDBF6F"/>
<circle cx="709.6" cy="279.6" r="3.3" fill="#FDBF6F"/>
<circle cx="702.5" cy="278.1" r="3.3" fill="#FDBF6F"/>
<circle cx="693.2" cy="276.5" r="3.3" fill="#FDBF6F"/>
<circle cx="718.4" cy="281.6" r="3.3" fill="#FDBF6F"/>
<circle cx="724.8" cy="283.3" r="3.3" fill="#FDBF6F"/>
<circle cx="727.5" cy="287.8" r="3.3" fill="#FDBF6F"/>
<circle cx="718.3" cy="289.2" r="3.3" fill="#FDBF6F"/>
<circle cx="690.5" cy="289.8" r="3.3" fill="#FDBF6F"/>
<circle cx="766.9" cy="291.0" r="3.3" fill="#FDBF6F"/>
<circle cx="711.4" cy="294.9" r="3.3" fill="#FDBF6F"/>
<circle cx="737.5" cy="295.0" r="3.3" fill="#FDBF6F"/>
<circle cx="735.4" cy="299.7" r="3.3" fill="#FDBF6F"/>
<circle cx="765.7" cy="296.2" r="3.3" fill="#FDBF6F"/>
<circle cx="694.2" cy="297.4" r="3.3" fill="#FDBF6F"/>
<circle cx="760.3" cy="303.6" r="3.3" fill="#FDBF6F"/>
<circle cx="716.7" cy="304.2" r="3.3" fill="#FDBF6F"/>
<circle cx="708.1" cy="307.5" r="3.3" fill="#FDBF6F"/>
<circle cx="691.1" cy="306.3" r="3.3" fill="#FDBF6F"/>
<circle cx="750.9" cy="308.7" r="3.3" fill="#FDBF6F"/>
<circle cx="768.8" cy="308.5" r="3.3" fill="#FDBF6F"/>
<circle cx="682.3" cy="312.0" r="3.3" fill="#FDBF6F"/>
<circle cx="687.1" cy="313.3" r="3.3" fill="#FDBF6F"/>
<circle cx="762.5" cy="312.7" r="3.3" fill="#FDBF6F"/>
<circle cx="678.5" cy="319.3" r="3.3" fill="#FDBF6F"/>
<circle cx="765.9" cy="319.0" r="3.3" fill="#FDBF6F"/>
<circle cx="737.5" cy="321.5" r="3.3" fill="#FDBF6F"/>
<circle cx="714.3" cy="322.4" r="3.3" fill="#FDBF6F"/>
<circle cx="760.6" cy="322.9" r="3.3" fill="#FDBF6F"/>
<circle cx="710.4" cy="327.0" r="3.3" fill="#FDBF6F"/>
<circle cx="728.3" cy="326.6" r="3.3" fill="#FDBF6F"/>
<circle cx="761.8" cy="327.9" r="3.3" fill="#FDBF6F"/>
<circle cx="768.1" cy="327.9" r="3.3" fill="#FDBF6F"/>
<circle cx="744.4" cy="330.2" r="3.3" fill="#FDBF6F"/>
<circle cx="739.1" cy="331.1" r="3.3" fill="#FDBF6F"/>
<circle cx="720.5" cy="333.1" r="3.3" fill="#FDBF6F"/>
<circle cx="731.7" cy="333.1" r="3.3" fill="#FDBF6F"/>
<circle cx="766.0" cy="333.4" r="3.3" fill="#FDBF6F"/>
<circle cx="694.0" cy="335.2" r="3.3" fill="#FDBF6F"/>
<circle cx="661.0" cy="335.2" r="3.3" fill="#FDBF6F"/>
<circle cx="760.6" cy="336.2" r="3.3" fill="#FDBF6F"/>
<circle cx="657.0" cy="339.3" r="3.3" fill="#FDBF6F"/>
<circle cx="667.1" cy="338.3" r="3.3" fill="#FDBF6F"/>
<circle cx="673.4" cy="339.9" r="3.3" fill="#FDBF6F"/>
<circle cx="722.3" cy="339.6" r="3.3" fill="#FDBF6F"/>
<circle cx="724.8" cy="342.3" r="3.3" fill="#FDBF6F"/>
<circle cx="727.2" cy="343.3" r="3.3" fill="#FDBF6F"/>
<circle cx="729.6" cy="345.6" r="3.3" fill="#FDBF6F"/>
<circle cx="732.4" cy="340.1" r="3.3" fill="#FDBF6F"/>
<circle cx="761.5" cy="338.4" r="3.3" fill="#FDBF6F"/>
<circle cx="753.3" cy="344.1" r="3.3" fill="#FDBF6F"/>
<circle cx="750.9" cy="346.3" r="3.3" fill="#FDBF6F"/>
<circle cx="666.1" cy="346.8" r="3.3" fill="#FDBF6F"/>
<circle cx="667.4" cy="350.2" r="3.3" fill="#FDBF6F"/>
<circle cx="679.9" cy="345.9" r="3.3" fill="#FDBF6F"/>
<circle cx="691.2" cy="350.3" r="3.3" fill="#FDBF6F"/>
<circle cx="710.8" cy="347.3" r="3.3" fill="#FDBF6F"/>
<circle cx="705.3" cy="350.9" r="3.3" fill="#FDBF6F"/>
<circle cx="727.2" cy="354.4" r="3.3" fill="#FDBF6F"/>
<circle cx="733.9" cy="355.0" r="3.3" fill="#FDBF6F"/>
<circle cx="732.0" cy="358.1" r="3.3" fill="#FDBF6F"/>
<circle cx="752.2" cy="355.4" r="3.3" fill="#FDBF6F"/>
<circle cx="708.1" cy="360.5" r="3.3" fill="#FDBF6F"/>
<circle cx="642.3" cy="364.1" r="3.3" fill="#FDBF6F"/>
<circle cx="651.3" cy="365.0" r="3.3" fill="#FDBF6F"/>
<circle cx="730.6" cy="363.8" r="3.3" fill="#FDBF6F"/>
<circle cx="730.2" cy="365.4" r="3.3" fill="#FDBF6F"/>
<circle cx="740.7" cy="366.3" r="3.3" fill="#FDBF6F"/>
<circle cx="770.5" cy="367.5" r="3.3" fill="#FDBF6F"/>
<circle cx="769.6" cy="370.8" r="3.3" fill="#FDBF6F"/>
<circle cx="713.2" cy="370.7" r="3.3" fill="#FDBF6F"/>
<circle cx="755.7" cy="370.6" r="3.3" fill="#FDBF6F"/>
<circle cx="760.0" cy="371.4" r="3.3" fill="#FDBF6F"/>
<circle cx="746.0" cy="374.1" r="3.3" fill="#FDBF6F"/>
<circle cx="749.0" cy="373.5" r="3.3" fill="#FDBF6F"/>
<circle cx="649.3" cy="374.1" r="3.3" fill="#FDBF6F"/>
<circle cx="641.9" cy="377.3" r="3.3" fill="#FDBF6F"/>
<circle cx="720.5" cy="375.2" r="3.3" fill="#FDBF6F"/>
<circle cx="713.9" cy="377.3" r="3.3" fill="#FDBF6F"/>
<circle cx="738.1" cy="374.8" r="3.3" fill="#FDBF6F"/>
<circle cx="734.6" cy="382.7" r="3.3" fill="#FDBF6F"/>
<circle cx="749.0" cy="382.6" r="3.3" fill="#FDBF6F"/>
<circle cx="769.7" cy="384.5" r="3.3" fill="#FDBF6F"/>
<circle cx="728.4" cy="388.1" r="3.3" fill="#FDBF6F"/>
<circle cx="730.0" cy="393.4" r="3.3" fill="#FDBF6F"/>
<circle cx="752.6" cy="392.1" r="3.3" fill="#FDBF6F"/>
<circle cx="750.3" cy="397.3" r="3.3" fill="#FDBF6F"/>
<circle cx="716.5" cy="394.7" r="3.3" fill="#FDBF6F"/>
<circle cx="717.3" cy="400.2" r="3.3" fill="#FDBF6F"/>
<circle cx="729.6" cy="404.1" r="3.3" fill="#FDBF6F"/>
<circle cx="763.0" cy="403.4" r="3.3" fill="#FDBF6F"/>
<circle cx="658.8" cy="409.9" r="3.3" fill="#FDBF6F"/>
<circle cx="659.2" cy="415.1" r="3.3" fill="#FDBF6F"/>
<circle cx="663.2" cy="415.1" r="3.3" fill="#FDBF6F"/>
<circle cx="747.0" cy="410.0" r="3.3" fill="#FDBF6F"/>
<circle cx="737.9" cy="413.3" r="3.3" fill="#FDBF6F"/>
<circle cx="730.5" cy="416.2" r="3.3" fill="#FDBF6F"/>
<circle cx="748.6" cy="418.4" r="3.3" fill="#FDBF6F"/>
<circle cx="723.9" cy="421.3" r="3.3" fill="#FDBF6F"/>
<circle cx="737.1" cy="424.6" r="3.3" fill="#FDBF6F"/>
<circle cx="670.5" cy="425.3" r="3.3" fill="#FDBF6F"/>
<circle cx="632.7" cy="428.0" r="3.3" fill="#FDBF6F"/>
<circle cx="688.9" cy="425.7" r="3.3" fill="#33A02C"/>
<circle cx="693.5" cy="429.8" r="3.3" fill="#33A02C"/>
<circle cx="697.4" cy="432.4" r="3.3" fill="#33A02C"/>
<circle cx="718.4" cy="431.5" r="3.3" fill="#33A02C"/>
<circle cx="719.7" cy="432.8" r="3.3" fill="#33A02C"/>
<circle cx="754.5" cy="426.7" r="3.3" fill="#FDBF6F"/>
<circle cx="757.9" cy="429.4" r="3.3" fill="#FDBF6F"/>
<circle cx="750.9" cy="430.9" r="3.3" fill="#FDBF6F"/>
<circle cx="734.8" cy="434.8" r="3.3" fill="#FDBF6F"/>
<circle cx="764.5" cy="434.6" r="3.3" fill="#33A02C"/>
<circle cx="790.3" cy="163.8" r="3.3" fill="#FDBF6F"/>
<circle cx="817.3" cy="162.3" r="3.3" fill="#FDBF6F"/>
<circle cx="798.7" cy="163.5" r="3.3" fill="#FDBF6F"/>
<circle cx="801.7" cy="162.3" r="3.3" fill="#FDBF6F"/>
<circle cx="805.0" cy="162.7" r="3.3" fill="#FDBF6F"/>
<circle cx="807.5" cy="164.8" r="3.3" fill="#FDBF6F"/>
<circle cx="801.1" cy="166.8" r="3.3" fill="#FDBF6F"/>
<circle cx="794.4" cy="170.2" r="3.3" fill="#FDBF6F"/>
<circle cx="784.5" cy="172.0" r="3.3" fill="#FDBF6F"/>
<circle cx="786.8" cy="174.1" r="3.3" fill="#FDBF6F"/>
<circle cx="804.3" cy="173.0" r="3.3" fill="#FDBF6F"/>
<circle cx="810.0" cy="176.3" r="3.3" fill="#FDBF6F"/>
<circle cx="812.6" cy="178.1" r="3.3" fill="#FDBF6F"/>
<circle cx="807.8" cy="179.0" r="3.3" fill="#FDBF6F"/>
<circle cx="816.3" cy="182.6" r="3.3" fill="#FDBF6F"/>
<circle cx="812.0" cy="188.8" r="3.3" fill="#FDBF6F"/>
<circle cx="815.1" cy="188.8" r="3.3" fill="#FDBF6F"/>
<circle cx="785.1" cy="189.6" r="3.3" fill="#FDBF6F"/>
<circle cx="799.3" cy="190.3" r="3.3" fill="#FDBF6F"/>
<circle cx="784.1" cy="193.3" r="3.3" fill="#FDBF6F"/>
<circle cx="781.9" cy="197.5" r="3.3" fill="#FDBF6F"/>
<circle cx="791.4" cy="196.6" r="3.3" fill="#FDBF6F"/>
<circle cx="796.9" cy="195.1" r="3.3" fill="#FDBF6F"/>
<circle cx="802.9" cy="196.9" r="3.3" fill="#FDBF6F"/>
<circle cx="800.1" cy="199.4" r="3.3" fill="#FDBF6F"/>
<circle cx="811.4" cy="196.0" r="3.3" fill="#FDBF6F"/>
<circle cx="812.2" cy="200.3" r="3.3" fill="#FDBF6F"/>
<circle cx="803.8" cy="205.1" r="3.3" fill="#FDBF6F"/>
<circle cx="816.9" cy="204.8" r="3.3" fill="#FDBF6F"/>
<circle cx="818.4" cy="209.7" r="3.3" fill="#FDBF6F"/>
<circle cx="813.9" cy="212.1" r="3.3" fill="#FDBF6F"/>
<circle cx="780.8" cy="209.3" r="3.3" fill="#FDBF6F"/>
<circle cx="791.0" cy="212.7" r="3.3" fill="#FDBF6F"/>
<circle cx="829.3" cy="211.3" r="3.3" fill="#FDBF6F"/>
<circle cx="832.7" cy="212.7" r="3.3" fill="#FDBF6F"/>
<circle cx="827.6" cy="214.5" r="3.3" fill="#FDBF6F"/>
<circle cx="827.5" cy="217.0" r="3.3" fill="#FDBF6F"/>
<circle cx="797.2" cy="219.8" r="3.3" fill="#FDBF6F"/>
<circle cx="820.9" cy="222.1" r="3.3" fill="#FDBF6F"/>
<circle cx="817.5" cy="224.9" r="3.3" fill="#FDBF6F"/>
<circle cx="780.1" cy="226.3" r="3.3" fill="#FDBF6F"/>
<circle cx="790.2" cy="226.7" r="3.3" fill="#FDBF6F"/>
<circle cx="795.0" cy="227.3" r="3.3" fill="#FDBF6F"/>
<circle cx="792.0" cy="228.3" r="3.3" fill="#FDBF6F"/>
<circle cx="801.5" cy="227.9" r="3.3" fill="#FDBF6F"/>
<circle cx="803.5" cy="230.3" r="3.3" fill="#FDBF6F"/>
<circle cx="806.3" cy="232.1" r="3.3" fill="#FDBF6F"/>
<circle cx="806.3" cy="238.3" r="3.3" fill="#FDBF6F"/>
<circle cx="807.5" cy="240.5" r="3.3" fill="#FDBF6F"/>
<circle cx="822.1" cy="239.9" r="3.3" fill="#FDBF6F"/>
<circle cx="824.8" cy="241.7" r="3.3" fill="#FDBF6F"/>
<circle cx="784.0" cy="250.9" r="3.3" fill="#FDBF6F"/>
<circle cx="779.9" cy="255.0" r="3.3" fill="#FDBF6F"/>
<circle cx="796.9" cy="249.5" r="3.3" fill="#FDBF6F"/>
<circle cx="814.1" cy="250.4" r="3.3" fill="#FDBF6F"/>
<circle cx="812.0" cy="252.9" r="3.3" fill="#FDBF6F"/>
<circle cx="807.5" cy="254.8" r="3.3" fill="#FDBF6F"/>
<circle cx="799.7" cy="277.3" r="3.3" fill="#FDBF6F"/>
<circle cx="779.4" cy="284.3" r="3.3" fill="#FDBF6F"/>
<circle cx="788.1" cy="290.9" r="3.3" fill="#FDBF6F"/>
<circle cx="781.7" cy="294.1" r="3.3" fill="#FDBF6F"/>
<circle cx="786.9" cy="296.1" r="3.3" fill="#FDBF6F"/>
<circle cx="800.3" cy="293.0" r="3.3" fill="#FDBF6F"/>
<circle cx="808.8" cy="294.3" r="3.3" fill="#FDBF6F"/>
<circle cx="812.4" cy="294.1" r="3.3" fill="#FDBF6F"/>
<circle cx="803.3" cy="299.1" r="3.3" fill="#FDBF6F"/>
<circle cx="785.3" cy="305.4" r="3.3" fill="#FDBF6F"/>
<circle cx="785.9" cy="309.3" r="3.3" fill="#FDBF6F"/>
<circle cx="784.1" cy="310.9" r="3.3" fill="#FDBF6F"/>
<circle cx="801.5" cy="311.3" r="3.3" fill="#FDBF6F"/>
<circle cx="810.6" cy="312.7" r="3.3" fill="#FDBF6F"/>
<circle cx="779.6" cy="315.1" r="3.3" fill="#FDBF6F"/>
<circle cx="782.0" cy="318.8" r="3.3" fill="#FDBF6F"/>
<circle cx="800.1" cy="319.8" r="3.3" fill="#FDBF6F"/>
<circle cx="790.9" cy="323.9" r="3.3" fill="#FDBF6F"/>
<circle cx="801.4" cy="328.4" r="3.3" fill="#FDBF6F"/>
<circle cx="802.3" cy="334.8" r="3.3" fill="#FDBF6F"/>
<circle cx="808.4" cy="334.2" r="3.3" fill="#FDBF6F"/>
<circle cx="795.6" cy="346.3" r="3.3" fill="#FDBF6F"/>
<circle cx="779.6" cy="353.9" r="3.3" fill="#FDBF6F"/>
<circle cx="793.1" cy="356.9" r="3.3" fill="#FDBF6F"/>
<circle cx="780.8" cy="369.1" r="3.3" fill="#FDBF6F"/>
<circle cx="783.7" cy="378.7" r="3.3" fill="#FDBF6F"/>
<circle cx="786.5" cy="380.8" r="3.3" fill="#FDBF6F"/>
<circle cx="778.0" cy="407.5" r="3.3" fill="#FDBF6F"/>
<circle cx="795.0" cy="408.6" r="3.3" fill="#FDBF6F"/>
<circle cx="800.5" cy="412.7" r="3.3" fill="#FDBF6F"/>
<circle cx="807.8" cy="410.9" r="3.3" fill="#FDBF6F"/>
<circle cx="786.2" cy="416.1" r="3.3" fill="#FDBF6F"/>
<circle cx="784.5" cy="426.6" r="3.3" fill="#FDBF6F"/>
<circle cx="806.8" cy="427.3" r="3.3" fill="#FDBF6F"/>
<circle cx="800.6" cy="435.5" r="3.3" fill="#FDBF6F"/>
</g>
<rect x="180.3" y="58" width="707.4" height="706.4" fill="none" stroke="#000" stroke-width="2.9"/>
<g stroke="#333" stroke-width="2.8">
<path d="M284.45 765.6v7.4M430.65 765.6v7.4M576.85 765.6v7.4M723.05 765.6v7.4M869.25 765.6v7.4"/>
<path d="M178.8 179.4h-7.5M178.8 314.15h-7.5M178.8 449.05h-7.5M178.8 583.65h-7.5M178.8 718.3h-7.5"/>
</g>
<g class="tk" text-anchor="end">
<text x="165.2" y="190.9">5.0</text>
<text x="165.2" y="325.7">2.5</text>
<text x="165.2" y="461.4">0.0</text>
<text x="165.2" y="595.2">-2.5</text>
<text x="165.2" y="729.9">-5.0</text>
</g>
<g class="tk" text-anchor="middle">
<text x="284.6" y="801.6">-10</text>
<text x="430.8" y="801.6">-5</text>
<text x="577.2" y="801.6">0</text>
<text x="723.3" y="801.6">5</text>
<text x="869.4" y="801.6">10</text>
</g>
<text class="ax" text-anchor="middle" x="533.5" y="843.6">umap_1</text>
<text class="ax" text-anchor="middle" transform="translate(88 411) rotate(-90)">umap_2</text>
<text class="lt" x="933" y="338.3">Merged:</text>
<g>
<circle cx="948" cy="373.2" r="13.3" fill="#A6CEE3"/>
<circle cx="948" cy="403.6" r="13.3" fill="#1F78B4"/>
<circle cx="948" cy="433.9" r="13.3" fill="#B2DF8A"/>
<circle cx="948" cy="464.3" r="13.3" fill="#33A02C"/>
<circle cx="948" cy="494.6" r="13.3" fill="#FDBF6F"/>
</g>
<g class="lg">
<text x="978.5" y="383.6">Ductal(239)</text>
<text x="978.5" y="414">Ngn3 low EP(81)</text>
<text x="978.5" y="444.3">Ngn3 high EP(168)</text>
<text x="978.5" y="474.7">Pre-endocrine(150)</text>
<text x="978.5" y="505">EndocrineClusters(362)</text>
</g>
</svg>
</body></html>
